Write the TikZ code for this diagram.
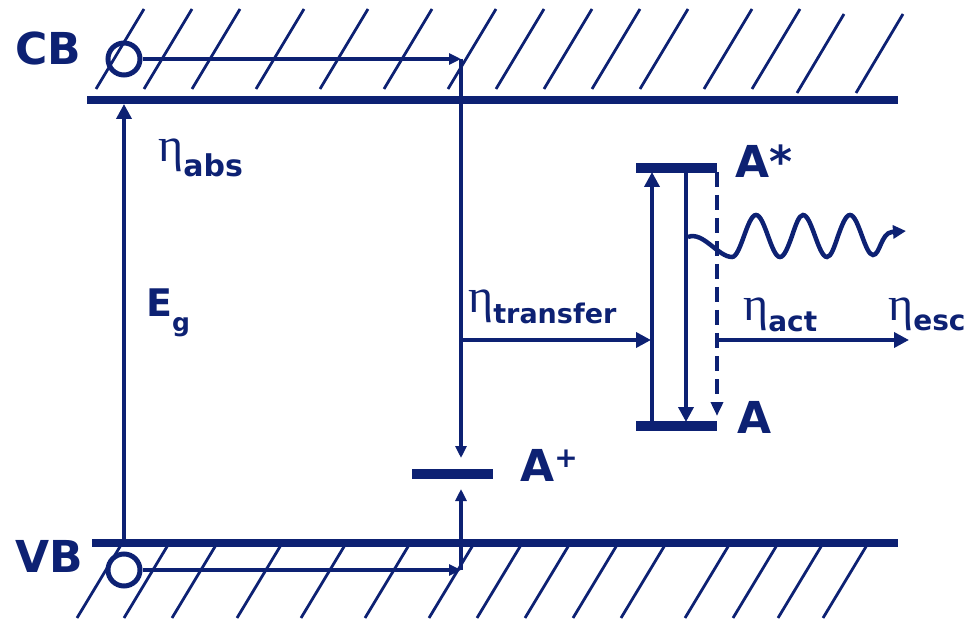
\documentclass[tikz,border=0pt]{standalone}
\usepackage{fontspec}
\setmainfont{DejaVu Sans}
\newfontfamily\etaf{Liberation Serif}
\usetikzlibrary{arrows.meta}
\definecolor{navy}{RGB}{13,33,115}
\begin{document}
\begin{tikzpicture}[x=1pt,y=-1pt,
  band/.style={line width=7.5pt, navy},
  hatch/.style={line width=2.8pt, navy},
  level/.style={line width=10pt, navy},
  conn/.style={line width=3.6pt, navy, -{Triangle[length=15pt,width=15pt]}},
  smallarr/.style={line width=3.3pt, navy, -{Triangle[length=12pt,width=11pt]}},
  dasharr/.style={line width=3.8pt, navy, dash pattern=on 15pt off 8pt, -{Triangle[length=14pt,width=12pt]}},
  hole/.style={circle, draw=navy, line width=5pt, minimum size=32pt, inner sep=0pt},
  lbl/.style={anchor=base west, inner sep=0pt, text=navy, font=\bfseries},
  big/.style={font=\bfseries\fontsize{44}{44}\selectfont},
  eta/.style={anchor=base west, inner sep=0pt, text=navy},
  etag/.style={}
]
\useasboundingbox (0,0) rectangle (972,620);

% ---- bands ----
\coordinate (cbL) at (87,100); \coordinate (cbR) at (898,100);
\coordinate (vbL) at (92,543); \coordinate (vbR) at (898,543);
\draw[band] (cbL) -- (cbR);
\draw[band] (vbL) -- (vbR);

% hatch above CB
\foreach \b in {96,144,192,256,320,384,448,496,544,592,640,704,752}
  \draw[hatch] (\b,89) -- ++(48,-80);
\foreach \b in {797,856}
  \draw[hatch] (\b,93) -- ++(47,-79);
% hatch below VB
\foreach \b in {77,124,172,237,301,365,429,477,525,573,621,685,733,778,823}
  \draw[hatch] (\b,618) -- ++(47,-78);

% ---- labels CB / VB ----
\node[lbl, big] (cb) at (15,65) {CB};
\node[lbl, big] (vb) at (15,572) {VB};

% ---- holes / electrons ----
\node[hole] (c1) at (124,59) {};
\node[hole] (c2) at (124,570) {};
\coordinate (j1) at (461,59);
\coordinate (j2) at (461,570);
\draw[smallarr] (c1.east) -- (j1);
\draw[smallarr] (c2.east) -- (j2);

% ---- A+ level ----
\coordinate (apL) at (412,474); \coordinate (apR) at (493,474);
\draw[level] (apL) -- (apR);
\coordinate (apTop) at (461,458);
\coordinate (apBot) at (461,489);
\draw[smallarr] (j1) -- (apTop);
\draw[smallarr] (j2) -- (apBot);
\node[lbl, big] (aplus) at (520,481) {A\raisebox{14pt}{\fontsize{28}{28}\selectfont +}};

% ---- Eg arrow ----
\coordinate (egB) at (124,543);
\coordinate (egT) at (124,104);
\draw[conn] (egB) -- (egT);
\node[lbl, font=\bfseries\fontsize{38}{38}\selectfont] (eg) at (146,317) {E\raisebox{-15pt}{\fontsize{25}{25}\selectfont g}};

% ---- eta labels ----
\node[eta] (etaabs) at (158,162) {{\etaf\fontsize{48}{48}\selectfont η}\raisebox{-15pt}{\bfseries\fontsize{30}{30}\selectfont abs}};
\node[eta] (etatr) at (468,313) {{\etaf\fontsize{48}{48}\selectfont η}\raisebox{-10pt}{\bfseries\fontsize{27}{27}\selectfont transfer}};
\node[eta] (etaact) at (743,320) {{\etaf\fontsize{48}{48}\selectfont η}\raisebox{-11pt}{\bfseries\fontsize{28}{28}\selectfont act}};
\node[eta] (etaesc) at (888,320) {{\etaf\fontsize{48}{48}\selectfont η}\raisebox{-10pt}{\bfseries\fontsize{28}{28}\selectfont esc}};

% ---- transfer arrow ----
\coordinate (trS) at (461,340);
\coordinate (trE) at (651,340);
\draw[conn] (trS) -- (trE);

% ---- A / A* system ----
\coordinate (asL) at (636,168); \coordinate (asR) at (717,168);
\coordinate (aL) at (636,426); \coordinate (aR) at (717,426);
\draw[level] (asL) -- (asR);
\draw[level] (aL) -- (aR);
\node[lbl, big] (astar) at (735,178) {A*};
\node[lbl, big] (a) at (737,433) {A};

\coordinate (upB) at (652,422); \coordinate (upT) at (652,172);
\coordinate (dnT) at (686,172); \coordinate (dnB) at (686,422);
\coordinate (dsT) at (717,172); \coordinate (dsB) at (717,416);
\draw[conn] (upB) -- (upT);
\draw[conn] (dnT) -- (dnB);
\draw[dasharr] (dsT) -- (dsB);

% ---- eta act arrow ----
\coordinate (acS) at (717,340);
\coordinate (acE) at (909,340);
\draw[conn] (acS) -- (acE);

% ---- photon wave ----
\coordinate (w0) at (688,237);
\coordinate (w1) at (906,231);
\draw[navy, line width=4.5pt, -{Triangle[length=13pt,width=13pt]}]
  (w0) .. controls (703,231) and (718,257) .. (732,257)
  cos (744,236) sin (756,215) cos (768,236) sin (780,257)
  cos (792,236) sin (803,215) cos (815,236) sin (827,257)
  cos (838,236) sin (850,215) cos (862,236) sin (873,255)
  .. controls (880,255) and (881,233) .. (892,232) -- (w1);
\end{tikzpicture}
\end{document}
